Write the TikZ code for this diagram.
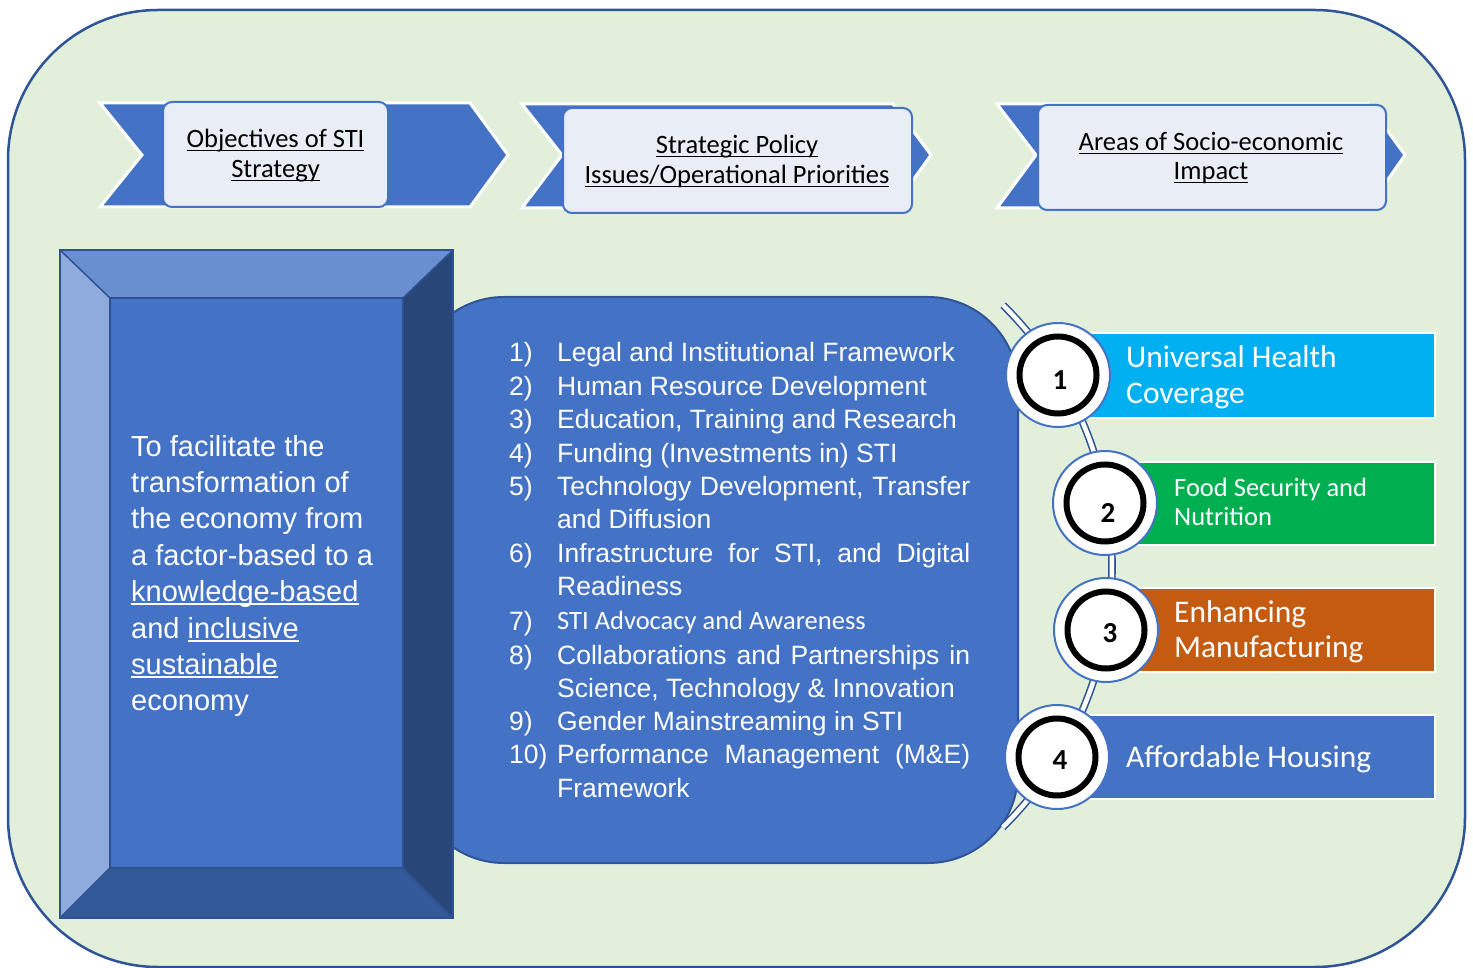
\documentclass[tikz,border=0pt]{standalone}
\usepackage{fontspec}
\setmainfont{Liberation Sans}
\newfontfamily\calib{Carlito}
\newcommand\myul[1]{\setbox0\hbox{#1}\rlap{\rule[-0.13em]{\wd0}{0.05em}}\box0}
\definecolor{bggreen}{HTML}{E2EFDA}
\definecolor{bgline}{HTML}{2F5597}
\definecolor{accblue}{HTML}{4472C4}
\definecolor{hdrfill}{HTML}{E9EDF6}
\definecolor{bevtop}{HTML}{6A8FD0}
\definecolor{bevleft}{HTML}{8FAADC}
\definecolor{bevright}{HTML}{284677}
\definecolor{bevbot}{HTML}{34599B}
\definecolor{bevline}{HTML}{2F528F}
\definecolor{uhc}{HTML}{00B0F0}
\definecolor{food}{HTML}{00B050}
\definecolor{manu}{HTML}{C55A11}
\begin{document}
\begin{tikzpicture}[x=1pt,y=-1pt,
  chev/.style={fill=accblue, draw=white, line width=3pt, line join=miter},
  hdrbox/.style={fill=hdrfill, draw=accblue, line width=2pt, rounded corners=9pt},
  hdrtxt/.style={font=\calib\fontsize{26.5}{30}\selectfont, anchor=base, inner sep=0pt, text=black},
  lefttxt/.style={font=\fontsize{29}{36}\selectfont, anchor=base west, inner sep=0pt, text=white},
  listtxt/.style={font=\fontsize{26.5}{33}\selectfont, anchor=base west, inner sep=0pt, text=white},
  listcal/.style={font=\calib\fontsize{26.5}{33}\selectfont, anchor=base west, inner sep=0pt, text=white},
  areabox/.style={draw=white, line width=2pt},
  areatxt/.style={font=\calib\fontsize{31.5}{36}\selectfont, anchor=base west, inner sep=0pt, text=white},
  areasmall/.style={font=\calib\fontsize{26.5}{30}\selectfont, anchor=base west, inner sep=0pt, text=white},
  outercirc/.style={circle, fill=white, draw=accblue, line width=2pt, minimum size=104pt, inner sep=0pt},
  ringcirc/.style={circle, draw=black, line width=6pt, minimum size=77pt, inner sep=0pt},
  numtxt/.style={font=\calib\bfseries\fontsize{29}{32}\selectfont, inner sep=0pt, text=black},
  link/.style={draw=bgline, double=white, double distance=4.5pt, line width=1.6pt}
]
\useasboundingbox (0,0) rectangle (1473,968);
% background
\draw[fill=bggreen, draw=bgline, line width=2.5pt, rounded corners=150pt] (8,10) rectangle (1465,967);

% header chevrons
\draw[chev] (100,103) -- (470,103) -- (508,155) -- (470,207) -- (100,207) -- (142,155) -- cycle;
\draw[chev] (522,104) -- (893,104) -- (931,155) -- (893,208) -- (522,208) -- (562,155) -- cycle;
\draw[chev] (997,104) -- (1368,104) -- (1405,155) -- (1368,208) -- (997,208) -- (1036,155) -- cycle;
\draw[hdrbox] (163,102) rectangle (388,207);
\draw[hdrbox] (563,108) rectangle (912,213);
\draw[hdrbox] (1038,105) rectangle (1386,210);
\node[hdrtxt] (h1a) at (275.5,148) {\myul{Objectives of STI}};
\node[hdrtxt] (h1b) at (275.5,178) {\myul{Strategy}};
\node[hdrtxt] (h2a) at (737,154) {\myul{Strategic Policy}};
\node[hdrtxt] (h2b) at (737,184) {\myul{Issues/Operational Priorities}};
\node[hdrtxt] (h3a) at (1211,151) {\myul{Areas of Socio-economic}};
\node[hdrtxt] (h3b) at (1211,180) {\myul{Impact}};

% middle rounded panel
\draw[fill=accblue, draw=bgline, line width=2pt, rounded corners=90pt] (414,297) rectangle (1018,863);

% left bevel box
\fill[bevtop] (60,250) -- (453,250) -- (403,298) -- (110,298) -- cycle;
\fill[bevleft] (60,250) -- (110,298) -- (110,868) -- (60,918) -- cycle;
\fill[bevright] (453,250) -- (453,918) -- (403,868) -- (403,298) -- cycle;
\fill[bevbot] (60,918) -- (110,868) -- (403,868) -- (453,918) -- cycle;
\fill[accblue] (110,298) rectangle (403,868);
\draw[bevline, line width=1.5pt] (60,250) -- (110,298) (453,250) -- (403,298) (60,918) -- (110,868) (453,918) -- (403,868);
\draw[bevline, line width=2pt] (110,298) rectangle (403,868);
\draw[bevline, line width=2.5pt] (60,250) rectangle (453,918);

\node[lefttxt] (t1) at (131,456) {To facilitate the};
\node[lefttxt] (t2) at (131,492) {transformation of};
\node[lefttxt] (t3) at (131,528) {the economy from};
\node[lefttxt] (t4) at (131,565) {a factor-based to a};
\node[lefttxt] (t5) at (131,601) {\myul{knowledge-based}};
\node[lefttxt] (t6) at (131,638) {and \myul{inclusive}};
\node[lefttxt] (t7) at (131,674) {\myul{sustainable}};
\node[lefttxt] (t8) at (131,710) {economy};

% list
\node[listtxt] (n1) at (509,361.5) {1)};
\node[listtxt] (l1) at (557,361.5) {Legal and Institutional Framework};
\node[listtxt] (n2) at (509,395.5) {2)};
\node[listtxt] (l2) at (557,395.5) {Human Resource Development};
\node[listtxt] (n3) at (509,428.5) {3)};
\node[listtxt] (l3) at (557,428.5) {Education, Training and Research};
\node[listtxt] (n4) at (509,462.5) {4)};
\node[listtxt] (l4) at (557,462.5) {Funding (Investments in) STI};
\node[listtxt] (n5) at (509,495.5) {5)};
\node[listtxt] (l5a) at (557,495.5) {\makebox[413pt][s]{Technology Development, Transfer}};
\node[listtxt] (l5b) at (557,528.5) {and Diffusion};
\node[listtxt] (n6) at (509,562.5) {6)};
\node[listtxt] (l6a) at (557,562.5) {\makebox[413pt][s]{Infrastructure for STI, and Digital}};
\node[listtxt] (l6b) at (557,595.5) {Readiness};
\node[listtxt] (n7) at (509,630.5) {7)};
\node[listcal] (l7) at (557,629.5) {STI Advocacy and Awareness};
\node[listtxt] (n8) at (509,664.5) {8)};
\node[listtxt] (l8a) at (557,664.5) {\makebox[413pt][s]{Collaborations and Partnerships in}};
\node[listtxt] (l8b) at (557,697.5) {Science, Technology \& Innovation};
\node[listtxt] (n9) at (509,730.5) {9)};
\node[listtxt] (l9) at (557,730.5) {Gender Mainstreaming in STI};
\node[listtxt] (n10) at (509,763.5) {10)};
\node[listtxt] (l10a) at (557,763.5) {\makebox[413pt][s]{Performance Management (M\&E)}};
\node[listtxt] (l10b) at (557,797.5) {Framework};

% arc link
\coordinate (arcTop) at (1003,305);
\coordinate (arcBot) at (1003,828);
\draw[link] plot[domain=-45.3:45.4, samples=60, smooth] ({745+367*cos(\x)},{566+367*sin(\x)});

% area rectangles
\draw[areabox, fill=uhc] (1058,333) rectangle (1435,418);
\draw[areabox, fill=food] (1105,462) rectangle (1435,545);
\draw[areabox, fill=manu] (1105,588) rectangle (1435,672);
\draw[areabox, fill=accblue] (1057,715) rectangle (1435,799);

% circles
\node[outercirc] (c1) at (1058,375) {};
\node[ringcirc] (r1) at (c1) {};
\node[outercirc] (c2) at (1105,503) {};
\node[ringcirc] (r2) at (c2) {};
\node[outercirc] (c3) at (1106,630) {};
\node[ringcirc] (r3) at (c3) {};
\node[outercirc] (c4) at (1057,757) {};
\node[ringcirc] (r4) at (c4) {};
\node[numtxt] (d1) at (1060,380) {1};
\node[numtxt] (d2) at (1108,513) {2};
\node[numtxt] (d3) at (1110,633) {3};
\node[numtxt] (d4) at (1060,760) {4};

% area texts
\node[areatxt] (a1a) at (1126,367) {Universal Health};
\node[areatxt] (a1b) at (1126,403) {Coverage};
\node[areasmall] (a2a) at (1174,496.5) {Food Security and};
\node[areasmall] (a2b) at (1174,525.5) {Nutrition};
\node[areatxt] (a3a) at (1174,622) {Enhancing};
\node[areatxt] (a3b) at (1174,657) {Manufacturing};
\node[areatxt] (a4) at (1126,767) {Affordable Housing};
\end{tikzpicture}
\end{document}
